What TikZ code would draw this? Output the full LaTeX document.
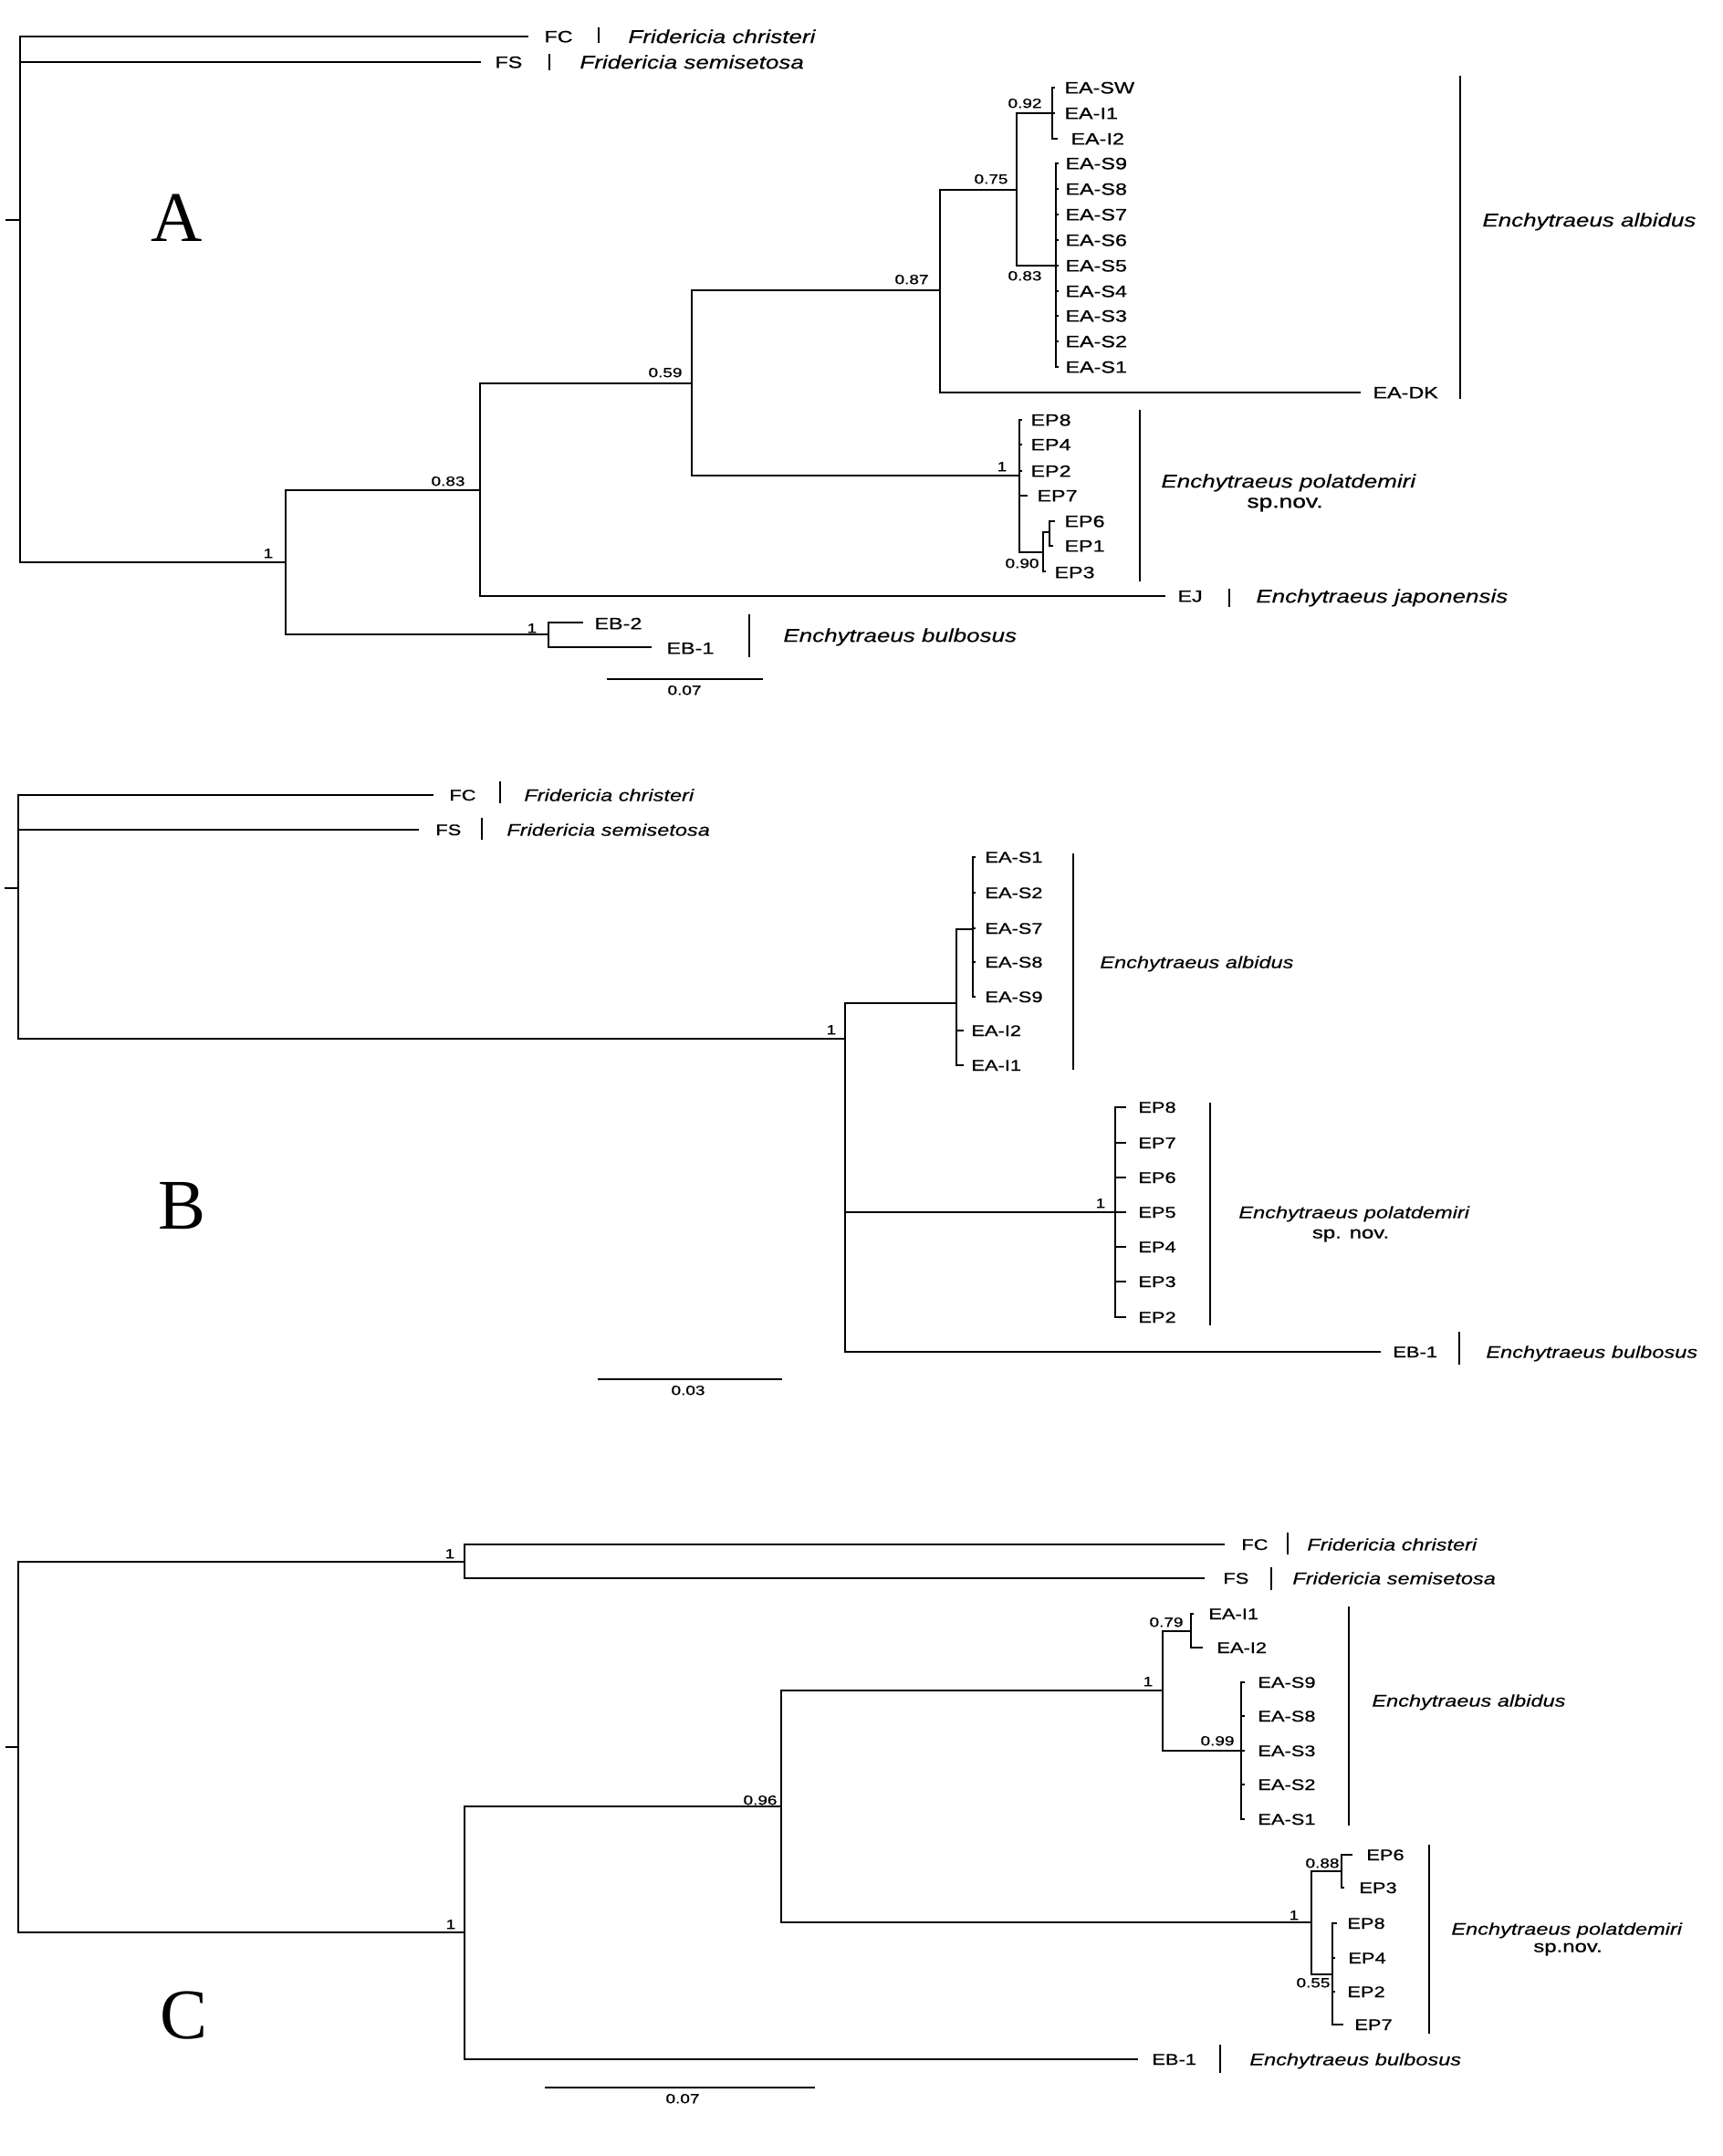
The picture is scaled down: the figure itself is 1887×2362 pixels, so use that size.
\documentclass[tikz,border=0pt]{standalone}
\usepackage{fontspec}
\newfontfamily\tf[FakeStretch=1.3,FakeBold=0.8]{Liberation Sans}
\newfontfamily\tfs[FakeStretch=1.28,FakeBold=0.3]{Liberation Sans}
\newfontfamily\lf{Liberation Serif}
\begin{document}
\begin{tikzpicture}[x=0.5pt,y=-0.5pt,
  br/.style={line width=0.9pt},
  tipA/.style={anchor=base west,inner sep=0,font=\tf\fontsize{9}{10}\selectfont,yshift=-3.2pt},
  spA/.style={anchor=base west,inner sep=0,font=\tfs\itshape\fontsize{10.15}{11}\selectfont,yshift=-3.6pt},
  subA/.style={anchor=base,inner sep=0,font=\tf\fontsize{10.15}{11}\selectfont,yshift=-3.6pt},
  tipB/.style={anchor=base west,inner sep=0,font=\tf\fontsize{8.4}{9}\selectfont,yshift=-3.0pt},
  spB/.style={anchor=base west,inner sep=0,font=\tfs\itshape\fontsize{9.2}{10}\selectfont,yshift=-3.3pt},
  subB/.style={anchor=base,inner sep=0,font=\tf\fontsize{9.2}{10}\selectfont,yshift=-3.3pt},
  num/.style={anchor=base,inner sep=0,font=\tf\fontsize{7.3}{8}\selectfont,yshift=-2.6pt},
  big/.style={inner sep=0,font=\lf\fontsize{39}{40}\selectfont}]
\useasboundingbox (0,0) rectangle (1887,2362);

% ================= Tree A =================
\node[big] (letA) at (194,239) {A};
\coordinate (rA) at (22,241);
\coordinate (tA) at (6,241);
\coordinate (aFC) at (579,40);
\coordinate (aFS) at (527,68);
\coordinate (a1) at (313,616);
\coordinate (a2) at (526,537);
\coordinate (a4) at (758,420);
\coordinate (a5) at (1030,318);
\coordinate (a6) at (1114,208);
\coordinate (a7) at (1153,124);
\coordinate (a8) at (1157,291);
\coordinate (a9) at (1117,521);
\coordinate (a10) at (1143,605);
\coordinate (a11) at (1150,583);
\coordinate (aEB) at (601,695);
\coordinate (aEJ) at (1277,653);
\coordinate (aDK) at (1491,430);
\coordinate (aSW) at (1156,96);
\coordinate (aI1) at (1156,124);
\coordinate (aI2) at (1159,152);
\coordinate (aP8) at (1120,460);
\coordinate (aP4) at (1120,487);
\coordinate (aP2) at (1120,516);
\coordinate (aP7) at (1126,543);
\coordinate (aP6) at (1156,571);
\coordinate (aP1) at (1154,598);
\coordinate (aP3) at (1146,626);
\coordinate (aB2) at (639,682);
\coordinate (aB1) at (714,709);

\draw[br] (tA) -- (rA);
\draw[br] (rA) |- (aFC);
\draw[br] (rA) |- (aFS);
\draw[br] (rA) |- (a1);
\draw[br] (a1) |- (a2);
\draw[br] (a1) |- (aEB);
\draw[br] (a2) |- (a4);
\draw[br] (a2) |- (aEJ);
\draw[br] (a4) |- (a5);
\draw[br] (a4) |- (a9);
\draw[br] (a5) |- (a6);
\draw[br] (a5) |- (aDK);
\draw[br] (a6) |- (a7);
\draw[br] (a6) |- (a8);
\draw[br] (a7) |- (aSW);
\draw[br] (a7) |- (aI1);
\draw[br] (a7) |- (aI2);
\foreach \n/\y in {9/179,8/207,7/235,6/263,5/291,4/319,3/346,2/374,1/402}{
  \coordinate (aS\n) at (1160,\y);
  \draw[br] (a8) |- (aS\n);
  \node[tipA] (laS\n) at (1167,\y) {EA-S\n};
}
\draw[br] (a9) |- (aP8);
\draw[br] (a9) |- (aP4);
\draw[br] (a9) |- (aP2);
\draw[br] (a9) |- (aP7);
\draw[br] (a9) |- (a10);
\draw[br] (a10) |- (a11);
\draw[br] (a10) |- (aP3);
\draw[br] (a11) |- (aP6);
\draw[br] (a11) |- (aP1);
\draw[br] (aEB) |- (aB2);
\draw[br] (aEB) |- (aB1);

\node[tipA] (laFC) at (596,40) {FC};
\draw[br] (656,30) -- (656,47);
\node[spA] (saFC) at (688,40) {Fridericia christeri};
\node[tipA] (laFS) at (542,68) {FS};
\draw[br] (602,59) -- (602,77);
\node[spA] (saFS) at (635,68) {Fridericia semisetosa};
\node[tipA] (laSW) at (1166,96) {EA-SW};
\node[tipA] (laI1) at (1166,124) {EA-I1};
\node[tipA] (laI2) at (1173,152) {EA-I2};
\node[tipA] (laDK) at (1504,430) {EA-DK};
\draw[br] (1600,83) -- (1600,437);
\node[spA] (saEA) at (1624,241) {Enchytraeus albidus};
\node[tipA] (laP8) at (1129,460) {EP8};
\node[tipA] (laP4) at (1129,487) {EP4};
\node[tipA] (laP2) at (1129,516) {EP2};
\node[tipA] (laP7) at (1136,543) {EP7};
\node[tipA] (laP6) at (1166,571) {EP6};
\node[tipA] (laP1) at (1166,598) {EP1};
\node[tipA] (laP3) at (1155,627) {EP3};
\draw[br] (1249,449) -- (1249,637);
\node[spA] (saEP) at (1272,527) {Enchytraeus polatdemiri};
\node[subA] (sbEP) at (1408,549) {sp.nov.};
\node[tipA] (laEJ) at (1290,653) {EJ};
\draw[br] (1347,645) -- (1347,665);
\node[spA] (saEJ) at (1376,653) {Enchytraeus japonensis};
\node[tipA] (laB2) at (651,683) {EB-2};
\node[tipA] (laB1) at (730,710) {EB-1};
\draw[br] (821,673) -- (821,720);
\node[spA] (saEB) at (858,696) {Enchytraeus bulbosus};

\node[num] (na1) at (1123,113) {0.92};
\node[num] (na2) at (1086,196) {0.75};
\node[num] (na3) at (999,306) {0.87};
\node[num] (na4) at (1123,302) {0.83};
\node[num] (na5) at (729,408) {0.59};
\node[num] (na6) at (491,527) {0.83};
\node[num] (na7) at (294,606) {1};
\node[num] (na8) at (1098,511) {1};
\node[num] (na9) at (1120,617) {0.90};
\node[num] (na10) at (583,688) {1};
\coordinate (scA1) at (665,744);
\coordinate (scA2) at (836,744);
\draw[br] (scA1) -- (scA2);
\node[num] (nscA) at (750,756) {0.07};

% ================= Tree B =================
\node[big] (letB) at (200,1321) {B};
\coordinate (rB) at (20,973);
\coordinate (tB) at (5,973);
\coordinate (bFC) at (475,871);
\coordinate (bFS) at (459,909);
\coordinate (b1) at (926,1138);
\coordinate (b2) at (1048,1099);
\coordinate (b3) at (1066,1018);
\coordinate (b4) at (1222,1328);
\coordinate (bEB) at (1513,1481);
\coordinate (bI2) at (1056,1129);
\coordinate (bI1) at (1056,1167);

\draw[br] (tB) -- (rB);
\draw[br] (rB) |- (bFC);
\draw[br] (rB) |- (bFS);
\draw[br] (rB) |- (b1);
\draw[br] (b1) |- (b2);
\draw[br] (b1) |- (b4);
\draw[br] (b1) |- (bEB);
\draw[br] (b2) |- (b3);
\draw[br] (b2) |- (bI2);
\draw[br] (b2) |- (bI1);
\foreach \n/\y in {1/939,2/978,7/1017,8/1054,9/1092}{
  \coordinate (bS\n) at (1069,\y);
  \draw[br] (b3) |- (bS\n);
  \node[tipB] (lbS\n) at (1079,\y) {EA-S\n};
}
\foreach \n/\y in {8/1213,7/1252,6/1290,5/1328,4/1366,3/1404,2/1443}{
  \coordinate (bP\n) at (1234,\y);
  \draw[br] (b4) |- (bP\n);
  \node[tipB] (lbP\n) at (1247,\y) {EP\n};
}
\node[tipB] (lbFC) at (492,871) {FC};
\draw[br] (548,856) -- (548,880);
\node[spB] (sbFC) at (574,871) {Fridericia christeri};
\node[tipB] (lbFS) at (477,909) {FS};
\draw[br] (528,896) -- (528,920);
\node[spB] (sbFS) at (555,909) {Fridericia semisetosa};
\node[tipB] (lbI2) at (1064,1129) {EA-I2};
\node[tipB] (lbI1) at (1064,1167) {EA-I1};
\draw[br] (1176,935) -- (1176,1172);
\node[spB] (sbEA) at (1205,1054) {Enchytraeus albidus};
\draw[br] (1326,1208) -- (1326,1452);
\node[spB] (sbEP) at (1357,1328) {Enchytraeus polatdemiri};
\node[subB] (sbEP2) at (1480,1350) {sp. nov.};
\node[tipB] (lbEB) at (1526,1481) {EB-1};
\draw[br] (1599,1459) -- (1599,1495);
\node[spB] (sbEB) at (1628,1481) {Enchytraeus bulbosus};
\node[num] (nb1) at (911,1128) {1};
\node[num] (nb2) at (1206,1318) {1};
\coordinate (scB1) at (655,1511);
\coordinate (scB2) at (857,1511);
\draw[br] (scB1) -- (scB2);
\node[num] (nscB) at (754,1523) {0.03};

% ================= Tree C =================
\node[big] (letC) at (202,2208) {C};
\coordinate (rC) at (20,1914);
\coordinate (tC) at (6,1914);
\coordinate (cFr) at (509,1711);
\coordinate (cFC) at (1342,1692);
\coordinate (cFS) at (1320,1729);
\coordinate (c1) at (509,2117);
\coordinate (c2) at (856,1979);
\coordinate (c3) at (1274,1852);
\coordinate (c4) at (1305,1787);
\coordinate (c5) at (1360,1918);
\coordinate (c6) at (1437,2106);
\coordinate (c7) at (1470,2050);
\coordinate (c8) at (1460,2163);
\coordinate (cEB) at (1247,2256);
\coordinate (cI1) at (1308,1768);
\coordinate (cI2) at (1318,1805);
\coordinate (cP6) at (1482,2032);
\coordinate (cP3) at (1473,2068);
\coordinate (cP8) at (1465,2107);
\coordinate (cP4) at (1463,2145);
\coordinate (cP2) at (1463,2182);
\coordinate (cP7) at (1472,2218);

\draw[br] (tC) -- (rC);
\draw[br] (rC) |- (cFr);
\draw[br] (rC) |- (c1);
\draw[br] (cFr) |- (cFC);
\draw[br] (cFr) |- (cFS);
\draw[br] (c1) |- (c2);
\draw[br] (c1) |- (cEB);
\draw[br] (c2) |- (c3);
\draw[br] (c2) |- (c6);
\draw[br] (c3) |- (c4);
\draw[br] (c3) |- (c5);
\draw[br] (c4) |- (cI1);
\draw[br] (c4) |- (cI2);
\foreach \n/\y in {9/1843,8/1880,3/1918,2/1955,1/1993}{
  \coordinate (cS\n) at (1364,\y);
  \draw[br] (c5) |- (cS\n);
  \node[tipB] (lcS\n) at (1378,\y) {EA-S\n};
}
\draw[br] (c6) |- (c7);
\draw[br] (c6) |- (c8);
\draw[br] (c7) |- (cP6);
\draw[br] (c7) |- (cP3);
\draw[br] (c8) |- (cP8);
\draw[br] (c8) |- (cP4);
\draw[br] (c8) |- (cP2);
\draw[br] (c8) |- (cP7);

\node[tipB] (lcFC) at (1360,1692) {FC};
\draw[br] (1411,1679) -- (1411,1703);
\node[spB] (scFC) at (1432,1692) {Fridericia christeri};
\node[tipB] (lcFS) at (1340,1729) {FS};
\draw[br] (1393,1717) -- (1393,1742);
\node[spB] (scFS) at (1416,1729) {Fridericia semisetosa};
\node[tipB] (lcI1) at (1324,1768) {EA-I1};
\node[tipB] (lcI2) at (1333,1805) {EA-I2};
\draw[br] (1478,1760) -- (1478,2000);
\node[spB] (scEA) at (1503,1863) {Enchytraeus albidus};
\node[tipB] (lcP6) at (1497,2032) {EP6};
\node[tipB] (lcP3) at (1489,2068) {EP3};
\node[tipB] (lcP8) at (1476,2107) {EP8};
\node[tipB] (lcP4) at (1477,2145) {EP4};
\node[tipB] (lcP2) at (1476,2182) {EP2};
\node[tipB] (lcP7) at (1484,2218) {EP7};
\draw[br] (1566,2021) -- (1566,2228);
\node[spB] (scEP) at (1590,2113) {Enchytraeus polatdemiri};
\node[subB] (scEP2) at (1718,2132) {sp.nov.};
\node[tipB] (lcEB) at (1262,2256) {EB-1};
\draw[br] (1337,2240) -- (1337,2271);
\node[spB] (scEB) at (1369,2256) {Enchytraeus bulbosus};

\node[num] (nc1) at (493,1702) {1};
\node[num] (nc2) at (494,2108) {1};
\node[num] (nc3) at (833,1972) {0.96};
\node[num] (nc4) at (1258,1842) {1};
\node[num] (nc5) at (1278,1777) {0.79};
\node[num] (nc6) at (1334,1907) {0.99};
\node[num] (nc7) at (1418,2098) {1};
\node[num] (nc8) at (1449,2041) {0.88};
\node[num] (nc9) at (1439,2172) {0.55};
\coordinate (scC1) at (597,2287);
\coordinate (scC2) at (893,2287);
\draw[br] (scC1) -- (scC2);
\node[num] (nscC) at (748,2299) {0.07};
\end{tikzpicture}
\end{document}
